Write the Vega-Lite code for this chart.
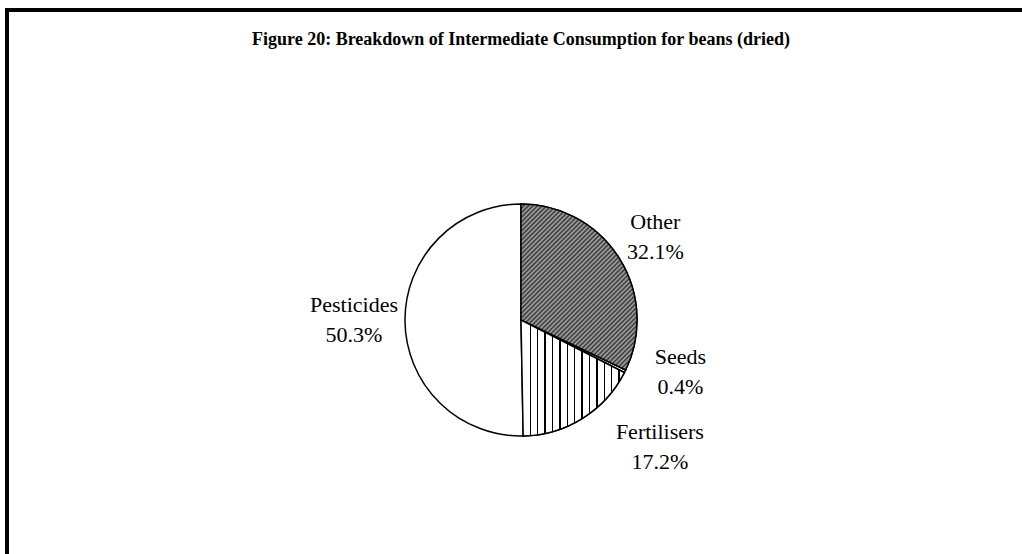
{
  "$schema": "https://vega.github.io/schema/vega-lite/v6.json",
  "width": 1028,
  "height": 620,
  "autosize": {"type": "none"},
  "padding": {"left": 7, "top": 10, "right": 0, "bottom": 0},
  "background": "white",
  "view": {"stroke": "black", "strokeWidth": 4},
  "config": {
    "view": {"stroke": "black", "strokeWidth": 4},
    "style": {"cell": {"stroke": "black", "strokeWidth": 4}, "view": {"stroke": "black", "strokeWidth": 4}}
  },
  "title": {
    "text": "Figure 20: Breakdown of Intermediate Consumption for beans (dried)",
    "font": "Liberation Serif",
    "fontSize": 18,
    "fontWeight": "bold",
    "color": "black",
    "anchor": "middle",
    "offset": -39
  },
  "data": {
    "values": [
      {"category": "Other", "value": 32.1, "order": 1},
      {"category": "Seeds", "value": 0.4, "order": 2},
      {"category": "Fertilisers", "value": 17.2, "order": 3},
      {"category": "Pesticides", "value": 50.3, "order": 4}
    ]
  },
  "transform": [
    {"stack": "value", "groupby": [], "sort": [{"field": "order", "order": "ascending"}], "as": ["start", "end"]},
    {"calculate": "(datum.start + datum.end) / 2", "as": "mid"},
    {"calculate": "datum.category + '\\n' + format(datum.value, '.1f') + '%'", "as": "label"}
  ],
  "encoding": {
    "theta": {"field": "start", "type": "quantitative", "scale": {"domain": [0, 100]}, "stack": null},
    "theta2": {"field": "end"}
  },
  "layer": [
    {
      "mark": {"type": "arc", "outerRadius": 116, "fill": "white", "stroke": "black", "strokeWidth": 1.5}
    },
    {
      "transform": [{"filter": "datum.category === 'Other'"}],
      "mark": {
        "type": "arc", "outerRadius": 116, "stroke": "black", "strokeWidth": 1.5,
        "fill": {
          "gradient": "linear", "x1": 0, "y1": 0, "x2": 0.8, "y2": 1.146,
          "stops": [
            {"offset": 0, "color": "#333"}, {"offset": 0.0081, "color": "#aaa"}, {"offset": 0.0161, "color": "#333"}, {"offset": 0.0242, "color": "#aaa"},
            {"offset": 0.0323, "color": "#333"}, {"offset": 0.0403, "color": "#aaa"}, {"offset": 0.0484, "color": "#333"}, {"offset": 0.0565, "color": "#aaa"},
            {"offset": 0.0645, "color": "#333"}, {"offset": 0.0726, "color": "#aaa"}, {"offset": 0.0806, "color": "#333"}, {"offset": 0.0887, "color": "#aaa"},
            {"offset": 0.0968, "color": "#333"}, {"offset": 0.1048, "color": "#aaa"}, {"offset": 0.1129, "color": "#333"}, {"offset": 0.1210, "color": "#aaa"},
            {"offset": 0.1290, "color": "#333"}, {"offset": 0.1371, "color": "#aaa"}, {"offset": 0.1452, "color": "#333"}, {"offset": 0.1532, "color": "#aaa"},
            {"offset": 0.1613, "color": "#333"}, {"offset": 0.1694, "color": "#aaa"}, {"offset": 0.1774, "color": "#333"}, {"offset": 0.1855, "color": "#aaa"},
            {"offset": 0.1935, "color": "#333"}, {"offset": 0.2016, "color": "#aaa"}, {"offset": 0.2097, "color": "#333"}, {"offset": 0.2177, "color": "#aaa"},
            {"offset": 0.2258, "color": "#333"}, {"offset": 0.2339, "color": "#aaa"}, {"offset": 0.2419, "color": "#333"}, {"offset": 0.2500, "color": "#aaa"},
            {"offset": 0.2581, "color": "#333"}, {"offset": 0.2661, "color": "#aaa"}, {"offset": 0.2742, "color": "#333"}, {"offset": 0.2823, "color": "#aaa"},
            {"offset": 0.2903, "color": "#333"}, {"offset": 0.2984, "color": "#aaa"}, {"offset": 0.3065, "color": "#333"}, {"offset": 0.3145, "color": "#aaa"},
            {"offset": 0.3226, "color": "#333"}, {"offset": 0.3306, "color": "#aaa"}, {"offset": 0.3387, "color": "#333"}, {"offset": 0.3468, "color": "#aaa"},
            {"offset": 0.3548, "color": "#333"}, {"offset": 0.3629, "color": "#aaa"}, {"offset": 0.3710, "color": "#333"}, {"offset": 0.3790, "color": "#aaa"},
            {"offset": 0.3871, "color": "#333"}, {"offset": 0.3952, "color": "#aaa"}, {"offset": 0.4032, "color": "#333"}, {"offset": 0.4113, "color": "#aaa"},
            {"offset": 0.4194, "color": "#333"}, {"offset": 0.4274, "color": "#aaa"}, {"offset": 0.4355, "color": "#333"}, {"offset": 0.4435, "color": "#aaa"},
            {"offset": 0.4516, "color": "#333"}, {"offset": 0.4597, "color": "#aaa"}, {"offset": 0.4677, "color": "#333"}, {"offset": 0.4758, "color": "#aaa"},
            {"offset": 0.4839, "color": "#333"}, {"offset": 0.4919, "color": "#aaa"}, {"offset": 0.5000, "color": "#333"}, {"offset": 0.5081, "color": "#aaa"},
            {"offset": 0.5161, "color": "#333"}, {"offset": 0.5242, "color": "#aaa"}, {"offset": 0.5323, "color": "#333"}, {"offset": 0.5403, "color": "#aaa"},
            {"offset": 0.5484, "color": "#333"}, {"offset": 0.5565, "color": "#aaa"}, {"offset": 0.5645, "color": "#333"}, {"offset": 0.5726, "color": "#aaa"},
            {"offset": 0.5806, "color": "#333"}, {"offset": 0.5887, "color": "#aaa"}, {"offset": 0.5968, "color": "#333"}, {"offset": 0.6048, "color": "#aaa"},
            {"offset": 0.6129, "color": "#333"}, {"offset": 0.6210, "color": "#aaa"}, {"offset": 0.6290, "color": "#333"}, {"offset": 0.6371, "color": "#aaa"},
            {"offset": 0.6452, "color": "#333"}, {"offset": 0.6532, "color": "#aaa"}, {"offset": 0.6613, "color": "#333"}, {"offset": 0.6694, "color": "#aaa"},
            {"offset": 0.6774, "color": "#333"}, {"offset": 0.6855, "color": "#aaa"}, {"offset": 0.6935, "color": "#333"}, {"offset": 0.7016, "color": "#aaa"},
            {"offset": 0.7097, "color": "#333"}, {"offset": 0.7177, "color": "#aaa"}, {"offset": 0.7258, "color": "#333"}, {"offset": 0.7339, "color": "#aaa"},
            {"offset": 0.7419, "color": "#333"}, {"offset": 0.7500, "color": "#aaa"}, {"offset": 0.7581, "color": "#333"}, {"offset": 0.7661, "color": "#aaa"},
            {"offset": 0.7742, "color": "#333"}, {"offset": 0.7823, "color": "#aaa"}, {"offset": 0.7903, "color": "#333"}, {"offset": 0.7984, "color": "#aaa"},
            {"offset": 0.8065, "color": "#333"}, {"offset": 0.8145, "color": "#aaa"}, {"offset": 0.8226, "color": "#333"}, {"offset": 0.8306, "color": "#aaa"},
            {"offset": 0.8387, "color": "#333"}, {"offset": 0.8468, "color": "#aaa"}, {"offset": 0.8548, "color": "#333"}, {"offset": 0.8629, "color": "#aaa"},
            {"offset": 0.8710, "color": "#333"}, {"offset": 0.8790, "color": "#aaa"}, {"offset": 0.8871, "color": "#333"}, {"offset": 0.8952, "color": "#aaa"},
            {"offset": 0.9032, "color": "#333"}, {"offset": 0.9113, "color": "#aaa"}, {"offset": 0.9194, "color": "#333"}, {"offset": 0.9274, "color": "#aaa"},
            {"offset": 0.9355, "color": "#333"}, {"offset": 0.9435, "color": "#aaa"}, {"offset": 0.9516, "color": "#333"}, {"offset": 0.9597, "color": "#aaa"},
            {"offset": 0.9677, "color": "#333"}, {"offset": 0.9758, "color": "#aaa"}, {"offset": 0.9839, "color": "#333"}, {"offset": 0.9919, "color": "#aaa"},
            {"offset": 1, "color": "#333"}
          ]
        }
      }
    },
    {
      "transform": [{"filter": "datum.category === 'Fertilisers'"}],
      "mark": {
        "type": "arc", "outerRadius": 116, "stroke": "black", "strokeWidth": 1.5,
        "fill": {
          "gradient": "linear", "x1": 0, "y1": 0, "x2": 1, "y2": 0,
          "stops": [
            {"offset": 0, "color": "white"},
            {"offset": 0.0827, "color": "white"}, {"offset": 0.0827, "color": "black"}, {"offset": 0.0973, "color": "black"}, {"offset": 0.0973, "color": "white"},
            {"offset": 0.1542, "color": "white"}, {"offset": 0.1542, "color": "black"}, {"offset": 0.1688, "color": "black"}, {"offset": 0.1688, "color": "white"},
            {"offset": 0.2257, "color": "white"}, {"offset": 0.2257, "color": "black"}, {"offset": 0.2403, "color": "black"}, {"offset": 0.2403, "color": "white"},
            {"offset": 0.2973, "color": "white"}, {"offset": 0.2973, "color": "black"}, {"offset": 0.3119, "color": "black"}, {"offset": 0.3119, "color": "white"},
            {"offset": 0.3689, "color": "white"}, {"offset": 0.3689, "color": "black"}, {"offset": 0.3835, "color": "black"}, {"offset": 0.3835, "color": "white"},
            {"offset": 0.4405, "color": "white"}, {"offset": 0.4405, "color": "black"}, {"offset": 0.4551, "color": "black"}, {"offset": 0.4551, "color": "white"},
            {"offset": 0.5120, "color": "white"}, {"offset": 0.5120, "color": "black"}, {"offset": 0.5266, "color": "black"}, {"offset": 0.5266, "color": "white"},
            {"offset": 0.5836, "color": "white"}, {"offset": 0.5836, "color": "black"}, {"offset": 0.5982, "color": "black"}, {"offset": 0.5982, "color": "white"},
            {"offset": 0.6552, "color": "white"}, {"offset": 0.6552, "color": "black"}, {"offset": 0.6698, "color": "black"}, {"offset": 0.6698, "color": "white"},
            {"offset": 0.7267, "color": "white"}, {"offset": 0.7267, "color": "black"}, {"offset": 0.7413, "color": "black"}, {"offset": 0.7413, "color": "white"},
            {"offset": 0.7983, "color": "white"}, {"offset": 0.7983, "color": "black"}, {"offset": 0.8129, "color": "black"}, {"offset": 0.8129, "color": "white"},
            {"offset": 0.8699, "color": "white"}, {"offset": 0.8699, "color": "black"}, {"offset": 0.8845, "color": "black"}, {"offset": 0.8845, "color": "white"},
            {"offset": 0.9414, "color": "white"}, {"offset": 0.9414, "color": "black"}, {"offset": 0.9560, "color": "black"}, {"offset": 0.9560, "color": "white"},
            {"offset": 1, "color": "white"}
          ]
        }
      }
    },
    {
      "transform": [{"filter": "datum.category === 'Other'"}],
      "mark": {"type": "text", "font": "Liberation Serif", "fontSize": 22, "lineHeight": 30, "lineBreak": "\n", "align": "center", "baseline": "middle", "color": "black", "dx": -1, "dy": -13},
      "encoding": {"theta": {"field": "mid", "type": "quantitative", "stack": null}, "theta2": null, "radius": {"value": 160}, "text": {"field": "label", "type": "nominal"}}
    },
    {
      "transform": [{"filter": "datum.category === 'Seeds'"}],
      "mark": {"type": "text", "font": "Liberation Serif", "fontSize": 22, "lineHeight": 30, "lineBreak": "\n", "align": "center", "baseline": "middle", "color": "black", "dx": 16, "dy": -34},
      "encoding": {"theta": {"field": "mid", "type": "quantitative", "stack": null}, "theta2": null, "radius": {"value": 160}, "text": {"field": "label", "type": "nominal"}}
    },
    {
      "transform": [{"filter": "datum.category === 'Fertilisers'"}],
      "mark": {"type": "text", "font": "Liberation Serif", "fontSize": 22, "lineHeight": 30, "lineBreak": "\n", "align": "center", "baseline": "middle", "color": "black", "dx": 54, "dy": -24},
      "encoding": {"theta": {"field": "mid", "type": "quantitative", "stack": null}, "theta2": null, "radius": {"value": 160}, "text": {"field": "label", "type": "nominal"}}
    },
    {
      "transform": [{"filter": "datum.category === 'Pesticides'"}],
      "mark": {"type": "text", "font": "Liberation Serif", "fontSize": 22, "lineHeight": 30, "lineBreak": "\n", "align": "center", "baseline": "middle", "color": "black", "dx": -7, "dy": -17},
      "encoding": {"theta": {"field": "mid", "type": "quantitative", "stack": null}, "theta2": null, "radius": {"value": 160}, "text": {"field": "label", "type": "nominal"}}
    }
  ]
}
